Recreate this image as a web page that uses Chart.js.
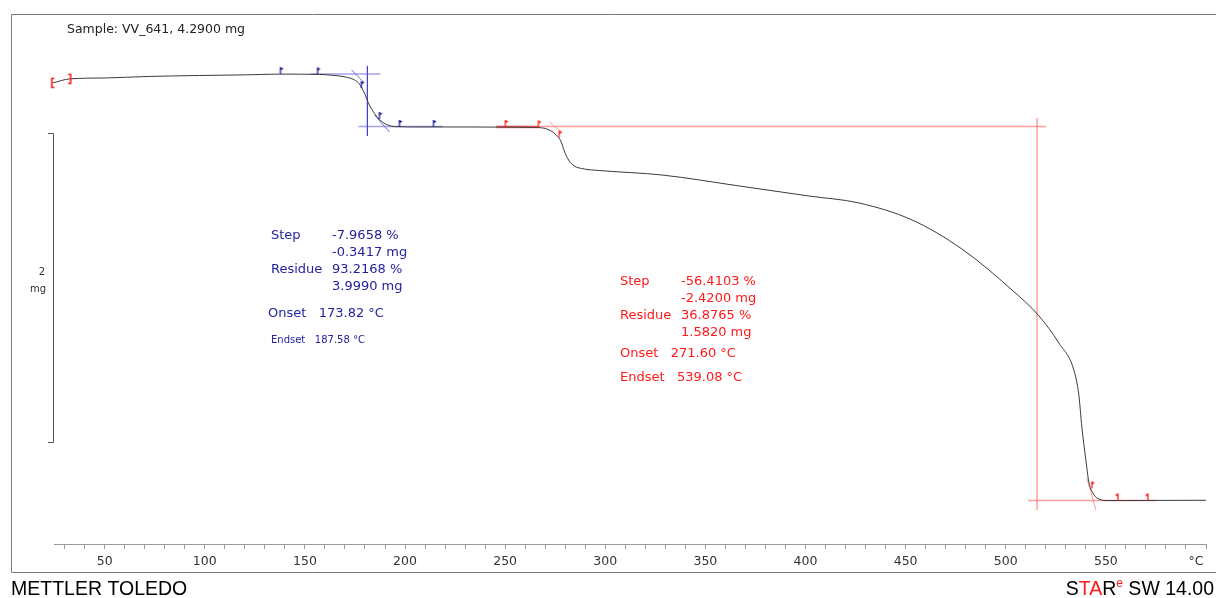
<!DOCTYPE html>
<html>
<head>
<meta charset="utf-8">
<script src="https://cdn.jsdelivr.net/npm/chart.js@4/dist/chart.umd.min.js"></script>
<style>
  html, body { margin: 0; padding: 0; background: #fff; }
  #wrap { width: 1216px; height: 598px; }
</style>
</head>
<body>
<div id="wrap"><canvas id="myChart" width="1216" height="598"></canvas></div>
<script>
// TGA curve, temperature in °C, mass in mg
const temps = [24.1, 32.5, 50, 72.5, 97.4, 120, 137.3, 157.3, 165, 170, 174.8, 177.2, 179.7, 182.2, 185.7, 188.7, 192, 194.7, 207.2, 230, 247.1, 265, 270, 273, 275.5, 278.0, 279.5, 282.0, 284.5, 289.5, 297.0, 328.4, 366.9, 401.8, 426.7, 453.2, 478.1, 503.1, 516.6, 526.5, 534.0, 536.5, 538.0, 540.0, 541.5, 543.5, 546, 551.5, 571.5, 600];
const masses = [4.284, 4.310, 4.316, 4.326, 4.332, 4.336, 4.341, 4.339, 4.332, 4.323, 4.303, 4.277, 4.219, 4.141, 4.070, 4.031, 4.009, 4.001, 3.999, 3.999, 3.998, 3.996, 3.989, 3.973, 3.947, 3.902, 3.844, 3.779, 3.747, 3.727, 3.717, 3.688, 3.617, 3.552, 3.507, 3.397, 3.209, 2.944, 2.776, 2.601, 2.426, 2.264, 2.057, 1.844, 1.701, 1.630, 1.594, 1.581, 1.582, 1.583];

// evaluation flags
const blueFlagT = [137.8, 156.3, 178.2, 187.2, 197.2, 214.2];
const blueFlagM = [4.341, 4.339, 4.250, 4.050, 3.999, 3.999];
const redFlagT = [250.1, 266.6, 277.0, 543.0, 556.0, 571.0];
const redFlagM = [3.999, 3.996, 3.930, 1.660, 1.582, 1.582];
const startT = [24.1, 32.5];
const startM = [4.284, 4.310];

// construction lines (step 1 blue, step 2 red)
const blueBaseT = [152.8, 187.7], blueBaseM = [4.342, 4.342];
const blueLowT = [176.7, 218.7], blueLowM = [4.002, 4.002];
const blueVertT = [181.2, 181.2], blueVertM = [4.394, 3.941];
const blueTan1T = [173.3, 179.7], blueTan1M = [4.368, 4.284];
const blueTan2T = [184.7, 192.2], blueTan2M = [4.077, 3.967];
const redBaseT = [245.6, 520.1], redBaseM = [4.002, 4.002];
const redEvalT = [245.6, 266.6], redEvalM = [3.999, 3.998];
const redVertT = [515.6, 515.6], redVertM = [4.057, 1.520];
const redLowT = [511.1, 575.0], redLowM = [1.582, 1.582];
const redTan1T = [272.1, 278.5], redTan1M = [4.031, 3.960];
const redTan2T = [540.5, 545.0], redTan2M = [1.727, 1.520];

const scaleBarTop = 3.96; // 2 mg bar

const BLUE = 'rgb(35,35,160)';
const RED = 'rgb(255,25,25)';

function pts(ts, ms) { return ts.map((t, i) => ({ x: t, y: ms[i] })); }

function makeFlag(color, left) {
  const c = document.createElement('canvas');
  c.width = 12; c.height = 16;
  const g = c.getContext('2d');
  g.strokeStyle = color; g.fillStyle = color; g.lineWidth = 1.2;
  g.beginPath(); g.moveTo(6, 8); g.lineTo(6, 1); g.stroke();
  g.beginPath();
  if (left) { g.moveTo(6, 1); g.lineTo(3, 2.5); g.lineTo(6, 4.5); }
  else { g.moveTo(6, 1); g.lineTo(9, 2.5); g.lineTo(6, 4.5); }
  g.closePath(); g.fill();
  return c;
}

function makeBracket(color, open) {
  const c = document.createElement('canvas');
  c.width = 8; c.height = 12;
  const g = c.getContext('2d');
  g.strokeStyle = color; g.lineWidth = 1.6;
  g.beginPath();
  if (open) { g.moveTo(5.5, 1.5); g.lineTo(3, 1.5); g.lineTo(3, 10.5); g.lineTo(5.5, 10.5); }
  else { g.moveTo(2.5, 1.5); g.lineTo(5, 1.5); g.lineTo(5, 10.5); g.lineTo(2.5, 10.5); }
  g.stroke();
  return c;
}

const blueFlag = makeFlag('rgb(20,20,140)', false);
const redFlag = makeFlag(RED, false);
const redFlagL = makeFlag(RED, true);

function seg(ts, ms, color, w) {
  return { type: 'line', data: pts(ts, ms), borderColor: color, borderWidth: w || 1,
    pointRadius: 0, fill: false, tension: 0 };
}

const lineBlue = 'rgba(60,60,210,0.75)';
const lineRed = 'rgba(255,80,80,0.55)';

const decor = {
  id: 'decor',
  afterDraw(chart) {
    const c = chart.ctx;
    const ys = chart.scales.y;
    c.save();
    // outer frame
    c.strokeStyle = '#7a7a7a'; c.lineWidth = 1;
    c.beginPath();
    c.moveTo(1216, 14.5); c.lineTo(11.5, 14.5); c.lineTo(11.5, 572.5); c.lineTo(1216, 572.5);
    c.stroke();

    // 2 mg scale bar
    const yt = Math.round(ys.getPixelForValue(scaleBarTop)) + 0.5;
    const yb = Math.round(ys.getPixelForValue(scaleBarTop - 2)) + 0.5;
    c.strokeStyle = '#555';
    c.beginPath();
    c.moveTo(48, yt); c.lineTo(53.5, yt); c.lineTo(53.5, yb); c.lineTo(48, yb);
    c.stroke();
    c.fillStyle = '#333'; c.font = '10px "DejaVu Sans"';
    c.textAlign = 'right'; c.textBaseline = 'middle';
    c.fillText('2', 45, (yt + yb) / 2 - 16);
    c.fillText('mg', 46, (yt + yb) / 2 + 1);

    c.textAlign = 'left';
    c.fillStyle = '#222'; c.font = '12.5px "DejaVu Sans"';
    c.fillText('Sample: VV_641, 4.2900 mg', 67, 30);

    // step 1
    c.fillStyle = BLUE; c.font = '13px "DejaVu Sans"';
    c.fillText('Step', 271, 236);
    c.fillText('-7.9658 %', 332, 236);
    c.fillText('-0.3417 mg', 332, 253);
    c.fillText('Residue', 271, 270);
    c.fillText('93.2168 %', 332, 270);
    c.fillText('3.9990 mg', 332, 287);
    c.fillText('Onset   173.82 \u00B0C', 268, 314);
    c.font = '10px "DejaVu Sans"';
    c.fillText('Endset   187.58 \u00B0C', 271, 340);

    // step 2
    c.fillStyle = RED; c.font = '13px "DejaVu Sans"';
    c.fillText('Step', 620, 282);
    c.fillText('-56.4103 %', 681, 282);
    c.fillText('-2.4200 mg', 681, 299);
    c.fillText('Residue', 620, 316);
    c.fillText('36.8765 %', 681, 316);
    c.fillText('1.5820 mg', 681, 333);
    c.fillText('Onset   271.60 \u00B0C', 620, 354);
    c.fillText('Endset   539.08 \u00B0C', 620, 378);

    // unit label at axis end
    c.fillStyle = '#333'; c.font = '12.5px "DejaVu Sans"';
    c.textAlign = 'center';
    c.fillText('\u00B0C', 1196, 562);

    // footer
    c.textAlign = 'left'; c.fillStyle = '#000';
    c.font = '19.5px "Liberation Sans"';
    c.fillText('METTLER TOLEDO', 11, 590);
    const parts = [['S', '#000', 19.5], ['TA', RED, 19.5], ['R', '#000', 19.5], ['e', RED, 12], [' SW 14.00', '#000', 19.5]];
    let total = 0;
    parts.forEach(p => { c.font = p[2] + 'px "Liberation Sans"'; total += c.measureText(p[0]).width; });
    let x = 1214 - total;
    parts.forEach(p => {
      c.font = p[2] + 'px "Liberation Sans"'; c.fillStyle = p[1];
      c.fillText(p[0], x, p[2] < 19 ? 584 : 590);
      x += c.measureText(p[0]).width;
    });
    c.restore();
  }
};

new Chart(document.getElementById('myChart'), {
  type: 'line',
  data: {
    datasets: [
      { type: 'scatter', data: pts(blueFlagT, blueFlagM), pointStyle: blueFlag, pointRadius: 6, clip: false },
      { type: 'scatter', data: pts(redFlagT.slice(0, 4), redFlagM.slice(0, 4)), pointStyle: redFlag, pointRadius: 6, clip: false },
      { type: 'scatter', data: pts(redFlagT.slice(4), redFlagM.slice(4)), pointStyle: redFlagL, pointRadius: 6, clip: false },
      { type: 'scatter', data: pts(startT.slice(0, 1), startM.slice(0, 1)), pointStyle: makeBracket(RED, true), pointRadius: 5, clip: false },
      { type: 'scatter', data: pts(startT.slice(1), startM.slice(1)), pointStyle: makeBracket(RED, false), pointRadius: 5, clip: false },
      { type: 'line', data: pts(temps, masses), borderColor: '#3a3a3a', borderWidth: 1,
        pointRadius: 0, fill: false, cubicInterpolationMode: 'monotone', clip: false },
      seg(blueBaseT, blueBaseM, 'rgba(90,90,220,0.55)', 1.5),
      seg(blueLowT, blueLowM, 'rgba(90,90,220,0.55)', 1.5),
      seg(blueVertT, blueVertM, lineBlue, 1),
      seg(blueTan1T, blueTan1M, lineBlue, 1),
      seg(blueTan2T, blueTan2M, lineBlue, 1),
      seg(redEvalT, redEvalM, 'rgba(230,40,40,0.6)', 2.5),
      seg(redBaseT, redBaseM, lineRed, 1.5),
      seg(redVertT, redVertM, lineRed, 1.5),
      seg(redLowT, redLowM, lineRed, 1.5),
      seg(redTan1T, redTan1M, lineRed, 1),
      seg(redTan2T, redTan2M, lineRed, 1)
    ]
  },
  options: {
    responsive: false,
    animation: false,
    devicePixelRatio: 1,
    layout: { padding: { left: 54, right: 10, top: 14, bottom: 0 } },
    plugins: { legend: { display: false }, tooltip: { enabled: false } },
    scales: {
      x: {
        type: 'linear', min: 24.7, max: 600,
        afterFit(scale) { scale.height = 54; },
        border: { display: true, color: '#999', width: 1 },
        grid: { drawOnChartArea: false, drawTicks: true, tickLength: 5, color: '#999' },
        ticks: {
          stepSize: 10, includeBounds: false, autoSkip: false, maxRotation: 0, padding: 5,
          color: '#333', font: { family: 'DejaVu Sans', size: 12.5 },
          callback: v => (v % 50 === 0 && v < 600) ? String(v) : ''
        }
      },
      y: { type: 'linear', min: 1.30, max: 4.73, display: false }
    }
  },
  plugins: [decor]
});
</script>
</body>
</html>
